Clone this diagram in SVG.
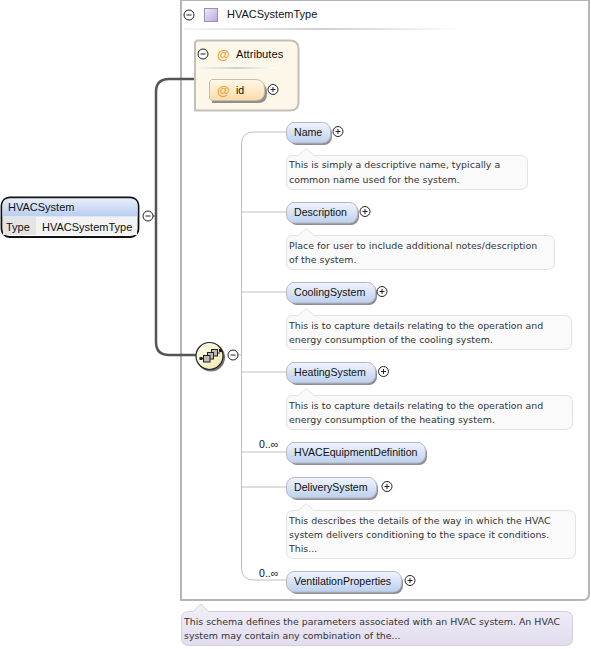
<svg xmlns="http://www.w3.org/2000/svg" width="591" height="649" viewBox="0 0 591 649">
<style>
.n{font:10.6px "Liberation Sans",Arial,sans-serif;fill:#111}
.b{font:11px "Liberation Sans",Arial,sans-serif;fill:#111}
.d{font:9.42px "DejaVu Sans",Verdana,sans-serif;fill:#333}
.at{font:bold 13px "Liberation Sans",Arial,sans-serif;fill:#f0a030}
.el{fill:url(#blue);stroke:#b4b8c4;stroke-width:1}
.sh{fill:#8f8f8f}
.doc{fill:#fafafa;stroke:#e2e2e2;stroke-width:1}
.c{fill:none;stroke:#bdbdbd;stroke-width:1}
.k{fill:none;stroke:#555;stroke-width:2.5}
.t{fill:#fff;stroke:#222;stroke-width:1}
.s{stroke:#222;stroke-width:1;fill:none}
</style>
<defs>
<linearGradient id="blue" x1="0" y1="0" x2="0" y2="1"><stop offset="0" stop-color="#f1f5fc"/><stop offset="1" stop-color="#bcd0ef"/></linearGradient>
<linearGradient id="org" x1="0" y1="0" x2="0" y2="1"><stop offset="0" stop-color="#fff8ea"/><stop offset="1" stop-color="#fbdca8"/></linearGradient>
<linearGradient id="hd" x1="0" y1="0" x2="0" y2="1"><stop offset="0" stop-color="#e8eefa"/><stop offset="1" stop-color="#b8cdf0"/></linearGradient>
<linearGradient id="cp" x1="0" y1="0" x2="1" y2="1"><stop offset="0" stop-color="#fffff0"/><stop offset="1" stop-color="#f0e8b0"/></linearGradient>
<linearGradient id="pu" x1="0" y1="0" x2="1" y2="1"><stop offset="0" stop-color="#f0ecf8"/><stop offset="1" stop-color="#b8a8d8"/></linearGradient>
<linearGradient id="line" x1="0" y1="0" x2="1" y2="0"><stop offset="0" stop-color="#f4f4f4"/><stop offset="0.5" stop-color="#d0d0d0"/><stop offset="1" stop-color="#fff"/></linearGradient>
<linearGradient id="tip" x1="0" y1="0" x2="0" y2="1"><stop offset="0" stop-color="#f2eff8"/><stop offset="1" stop-color="#e2dced"/></linearGradient>
<g id="m"><circle r="5" class="t"/><path d="M-2.500 0H2.500" class="s"/></g>
<g id="p"><circle r="5" class="t"/><path d="M-2.500 0H2.500M0 -2.500V2.500" class="s"/></g>
</defs>
<rect width="591" height="649" fill="#fff"/>

<g id="type-box">
<path d="M181 0H589V594Q589 600 583 600H181Z" fill="#fff" stroke="#b5b5b5" stroke-width="2"/>
<use href="#m" x="189" y="15"/>
<rect x="204.500" y="8.500" width="13" height="13" fill="url(#pu)" stroke="#9a8fb8"/>
<text x="227" y="18" class="b">HVACSystemType</text>
<rect x="184" y="28" width="280" height="2" fill="url(#line)"/>
</g>

<g id="connectors">
<path class="k" d="M156 215V92Q156 79 169 79H195"/>
<path class="k" d="M156 215V342Q156 355 169 355H196"/>
<path d="M148 216H156" stroke="#555" stroke-width="1" fill="none"/>
<path class="c" d="M233 355H241.500"/>
<path class="c" d="M286 132H254Q241.500 132 241.500 144V568Q241.500 580 254 580H286"/>
<path class="c" d="M241.500 212H286M241.500 292H286M241.500 372H286M241.500 452H286M241.500 487H286"/>
</g>

<g id="HVACSystem">
<rect x="1.500" y="197.500" width="137" height="39.500" rx="8" fill="#fff" stroke="#111" stroke-width="1.800"/>
<path d="M2.500 216.500V205Q2.500 198.500 9.500 198.500H130Q137.500 198.500 137.500 205V216.500Z" fill="url(#hd)"/>
<rect x="3" y="217" width="33" height="18" fill="#e4e4e4"/>
<rect x="36" y="217" width="101" height="18" fill="#f3f3f3"/>
<text x="8" y="211" class="b">HVACSystem</text>
<text x="6" y="231" class="b">Type</text>
<text x="42" y="231" class="b">HVACSystemType</text>
<use href="#m" x="148" y="216"/>
</g>

<g id="Attributes">
<path d="M197 40.500H290Q298.500 40.500 298.500 49V102Q298.500 110.500 290 110.500H195V42.500Z" fill="#fdf7ea" stroke="#c4c0b8" stroke-width="2"/>
<use href="#m" x="203" y="54"/>
<text x="217" y="59" class="at">@</text>
<text x="236" y="58" class="b" style="font-size:11.2px">Attributes</text>
<rect x="198" y="67" width="78" height="2" fill="url(#line)"/>
</g>
<g id="id">
<path d="M212 83H258Q267 83 267 92V94Q267 103 258 103H212Z" class="sh"/>
<path d="M211.500 79.500H255Q264.500 79.500 264.500 88V92Q264.500 100.500 255 100.500H211.500L209.500 98.500V81.500Z" fill="url(#org)" stroke="#c8bda8"/>
<text x="217" y="95" class="at">@</text>
<text x="236" y="94" class="n">id</text>
<use href="#p" x="273" y="89.500"/>
</g>

<g id="sequence">
<circle cx="211" cy="357.500" r="14" fill="#777"/>
<circle cx="209.500" cy="356" r="13.500" fill="url(#cp)" stroke="#222" stroke-width="1.200"/>
<path d="M201 358.500H207M214 353H220" stroke="#222" stroke-width="1"/>
<rect x="211.500" y="349.500" width="6" height="6.500" fill="#bbb" stroke="#222"/>
<rect x="207.500" y="352.500" width="6" height="6.500" fill="#bbb" stroke="#222"/>
<rect x="203.500" y="355.500" width="6.500" height="6.500" fill="#bbb" stroke="#222"/>
<rect x="199.500" y="357" width="3" height="3" fill="#222"/><rect x="219" y="349" width="3" height="3" fill="#222"/>
<use href="#m" x="233" y="355"/>
</g>

<g id="Name">
<rect x="289" y="125" width="43" height="20" rx="8" class="sh"/>
<rect x="286.500" y="122.500" width="44" height="20.500" rx="8" class="el"/>
<text x="294" y="136" class="n">Name</text>
<use href="#p" x="338" y="131.500"/>
<path class="doc" d="M293 155.500H298L306 148.500L314 155.500H520Q527.500 155.500 527.500 162V183Q527.500 189.500 520 189.500H293Q286.500 189.500 286.500 183V162Q286.500 155.500 293 155.500Z"/>
<text x="289" y="168" class="d">This is simply a descriptive name, typically a</text>
<text x="289" y="183" class="d">common name used for the system.</text>
</g>

<g id="Description">
<rect x="289" y="205" width="70" height="20" rx="8" class="sh"/>
<rect x="286.500" y="202.500" width="71" height="20.500" rx="8" class="el"/>
<text x="294" y="216" class="n">Description</text>
<use href="#p" x="365" y="211.500"/>
<path class="doc" d="M293 235.500H298L306 228.500L314 235.500H547Q554.500 235.500 554.500 242V263Q554.500 269.500 547 269.500H293Q286.500 269.500 286.500 263V242Q286.500 235.500 293 235.500Z"/>
<text x="289" y="249" class="d">Place for user to include additional notes/description</text>
<text x="289" y="263" class="d">of the system.</text>
</g>

<g id="CoolingSystem">
<rect x="289" y="285" width="88" height="20" rx="8" class="sh"/>
<rect x="286.500" y="282.500" width="89" height="20.500" rx="8" class="el"/>
<text x="294" y="296" class="n">CoolingSystem</text>
<use href="#p" x="382" y="291.500"/>
<path class="doc" d="M293 315.500H298L306 308.500L314 315.500H564Q571.500 315.500 571.500 322V343Q571.500 349.500 564 349.500H293Q286.500 349.500 286.500 343V322Q286.500 315.500 293 315.500Z"/>
<text x="289" y="329" class="d">This is to capture details relating to the operation and</text>
<text x="289" y="343" class="d">energy consumption of the cooling system.</text>
</g>

<g id="HeatingSystem">
<rect x="289" y="365" width="88" height="20" rx="8" class="sh"/>
<rect x="286.500" y="362.500" width="89" height="20.500" rx="8" class="el"/>
<text x="294" y="376" class="n">HeatingSystem</text>
<use href="#p" x="383.500" y="371.500"/>
<path class="doc" d="M293 395.500H298L306 388.500L314 395.500H565Q572.500 395.500 572.500 402V423Q572.500 429.500 565 429.500H293Q286.500 429.500 286.500 423V402Q286.500 395.500 293 395.500Z"/>
<text x="289" y="409" class="d">This is to capture details relating to the operation and</text>
<text x="289" y="423" class="d">energy consumption of the heating system.</text>
</g>

<g id="HVACEquipmentDefinition">
<text x="259" y="448" class="n">0..∞</text>
<rect x="289" y="445" width="138" height="20" rx="8" class="sh"/>
<rect x="286.500" y="442.500" width="139" height="20.500" rx="8" class="el"/>
<text x="294" y="456" class="n">HVACEquipmentDefinition</text>
</g>

<g id="DeliverySystem">
<rect x="289" y="480" width="89" height="20" rx="8" class="sh"/>
<rect x="286.500" y="477.500" width="90" height="20.500" rx="8" class="el"/>
<text x="294" y="491" class="n">DeliverySystem</text>
<use href="#p" x="387" y="486.500"/>
<path class="doc" d="M293 510.500H298L306 503.500L314 510.500H568Q575.500 510.500 575.500 517V552Q575.500 558.500 568 558.500H293Q286.500 558.500 286.500 552V517Q286.500 510.500 293 510.500Z"/>
<text x="289" y="524" class="d">This describes the details of the way in which the HVAC</text>
<text x="289" y="538" class="d">system delivers conditioning to the space it conditions.</text>
<text x="289" y="552" class="d">This...</text>
</g>

<g id="VentilationProperties">
<text x="259" y="577" class="n">0..∞</text>
<rect x="289" y="574" width="114" height="20" rx="8" class="sh"/>
<rect x="286.500" y="571.500" width="115" height="20.500" rx="8" class="el"/>
<text x="294" y="585" class="n">VentilationProperties</text>
<use href="#p" x="410" y="580.500"/>
</g>

<g id="schema-doc">
<path d="M189.500 611.500H193L201 604L208 611.500H565Q572.500 611.500 572.500 618V639Q572.500 645.500 565 645.500H189.500Q181.500 645.500 181.500 639V618Q181.500 611.500 189.500 611.500Z" fill="url(#tip)" stroke="#d4cfe0"/>
<text x="184" y="625" class="d">This schema defines the parameters associated with an HVAC system. An HVAC</text>
<text x="184" y="639" class="d">system may contain any combination of the...</text>
</g>
</svg>
